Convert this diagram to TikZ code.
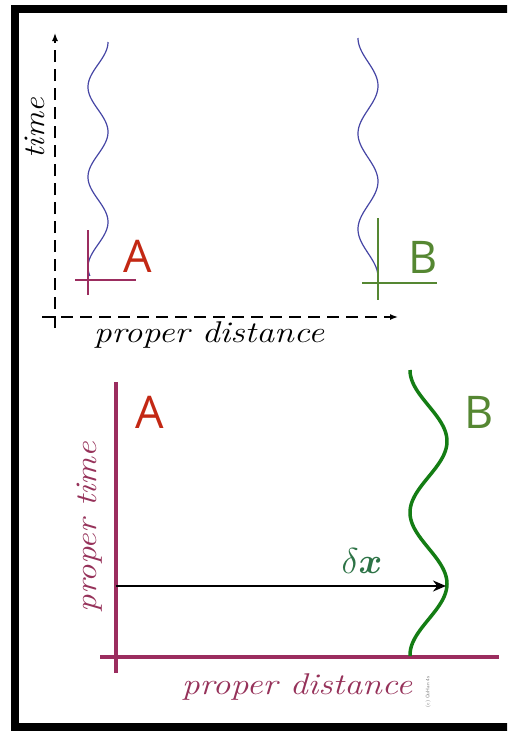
\RequirePackage{fix-cm}
\documentclass[tikz,border=0pt]{standalone}
\usepackage{amsmath}
\usepackage{fontspec}
\newfontfamily\labelsans{Open Sans}
\usetikzlibrary{arrows.meta}
\definecolor{purp}{RGB}{155,45,95}
\definecolor{purptext}{RGB}{150,50,90}
\definecolor{redA}{RGB}{195,40,20}
\definecolor{greenB}{RGB}{85,135,50}
\definecolor{wavegreen}{RGB}{20,125,20}
\definecolor{waveblue}{RGB}{70,70,165}
\definecolor{dxgreen}{RGB}{45,115,70}
\newcommand{\widen}[2]{\scalebox{#1}[1]{#2}}
\begin{document}
\begin{tikzpicture}[x=1pt,y=-1pt,
  letter/.style={font=\fontsize{45}{45}\selectfont\labelsans, inner sep=0pt},
  itlabel/.style={font=\fontsize{30}{34}\selectfont\itshape, inner sep=0pt},
  dashaxis/.style={line width=1.4pt, dash pattern=on 12pt off 7pt},
  crossA/.style={purp, line width=2.5pt},
  crossB/.style={greenB, line width=2.5pt},
  bluewave/.style={waveblue, line width=1.2pt},
  axisP/.style={purp, line width=4pt}]
\useasboundingbox (0,0) rectangle (507,732);
\clip (0,0) rectangle (507,732);
\fill[white] (0,0) rectangle (507,732);
\draw[line width=8pt, black] (15,9) rectangle (540,727);

% ---------- top diagram ----------
\coordinate (tBot) at (55,328);
\coordinate (tTop) at (55,33);
\coordinate (xL) at (42,317);
\coordinate (xR) at (398,317);
\draw[dashaxis, -{Latex[length=8pt,width=6pt]}] (tBot) -- (tTop);
\draw[dashaxis, -{Latex[length=8pt,width=6pt]}] (xL) -- (xR);
\node[itlabel, rotate=90] (time) at (35,128) {\widen{1.09}{time}};
\node[itlabel] (pd1) at (209,335) {\widen{1.19}{proper distance}};

\draw[bluewave] plot[domain=42:276, samples=150, variable=\t] ({98+10*cos(4*(\t-42))}, \t);
\draw[bluewave] plot[domain=38:277, samples=150, variable=\t] ({368-10*cos(3.766*(\t-38))}, \t);

\draw[crossA] (88,230) -- (88,295);
\draw[crossA] (75,280) -- (136,280);
\draw[crossB] (378,218) -- (378,300);
\draw[crossB] (362,283) -- (437,283);

\node[letter, redA] (A1) at (138,256) {A};
\node[letter, greenB] (B1) at (423,257) {B};

% ---------- bottom diagram ----------
\draw[axisP] (116,382) -- (116,673);
\draw[axisP] (100,657) -- (499,657);
\draw[wavegreen, line width=3.5pt] plot[domain=370:656, samples=160, variable=\t] ({428.5-18.5*cos(2.526*(\t-370))}, \t);

\node[letter, redA] (A2) at (150,412) {A};
\node[letter, greenB] (B2) at (479,412) {B};
\node[itlabel, purptext, rotate=90] (ptime) at (90,527) {\widen{1.16}{proper time}};
\node[itlabel, purptext] (pd2) at (297,687) {\widen{1.19}{proper distance}};

\coordinate (arrS) at (116,586);
\coordinate (arrE) at (446,586);
\draw[black, line width=2pt, -{Stealth[length=13pt,width=11pt]}] (arrS) -- (arrE);
\node[dxgreen, inner sep=0pt, font=\fontsize{36}{38}\selectfont] (dx) at (362,561) {$\delta\boldsymbol{x}$};

\node[gray, inner sep=0pt, rotate=90, font=\fontsize{5}{5}\selectfont\sffamily] (copy) at (428,692) {(c) OuHan 4s};
\end{tikzpicture}
\end{document}
